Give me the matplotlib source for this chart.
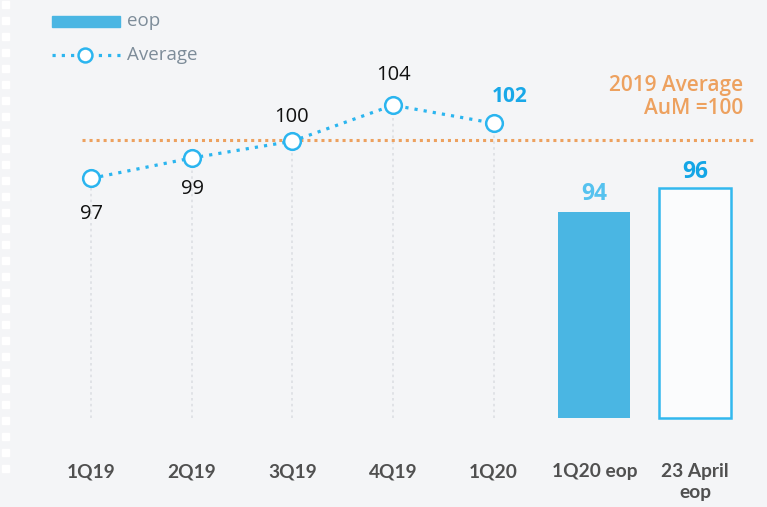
import matplotlib
matplotlib.use("Agg")
import matplotlib.pyplot as plt
from matplotlib.lines import Line2D
from matplotlib.patches import Rectangle

# ---- data ----
categories = ["1Q19", "2Q19", "3Q19", "4Q19", "1Q20", "1Q20 eop", "23 April\neop"]
avg_values = [96.8, 98.5, 99.9, 102.9, 101.4]          # plotted positions
avg_labels = ["97", "99", "100", "104", "102"]
eop_values = [94, 96]
eop_labels = ["94", "96"]
reference_value = 100
reference_label = "2019 Average\nAuM =100"

BG = "#f4f5f7"
BLUE_BAR = "#4ab6e3"
BLUE_LINE = "#2bb5ef"
ORANGE = "#eda15f"
GREY_TXT = "#555555"

W, H = 767, 507
fig = plt.figure(figsize=(W / 100, H / 100), dpi=100, facecolor=BG)
ax = fig.add_axes([0, 0, 1, 1])
ax.set_facecolor(BG)

# pixel -> data mapping
px_per_x = 100.67
x0_px = 91
px_per_y = 12.0
ref_y_px, ref_val = 188, 96
ax.set_xlim(-x0_px / px_per_x, (W - x0_px) / px_per_x)
ax.set_ylim(ref_val - (H - ref_y_px) / px_per_y, ref_val + ref_y_px / px_per_y)
for s in ax.spines.values():
    s.set_visible(False)
ax.set_xticks([]); ax.set_yticks([])

def py(p):  # pixel y -> data y
    return ref_val - (p - ref_y_px) / px_per_y

def px(p):
    return (p - x0_px) / px_per_x

base = py(418)
xs = list(range(len(categories)))
n_avg = len(avg_values)

# vertical dotted guides
for i in range(n_avg):
    ax.plot([xs[i], xs[i]], [base, avg_values[i]], color="#dcdfe3", lw=1.2,
            ls=(0, (1.5, 2)), zorder=1)

# reference line
ax.plot([px(82), px(754)], [reference_value, reference_value], color=ORANGE, lw=2.2,
        ls=(0, (1, 1.3)), zorder=2)

# average line
ax.plot(xs[:n_avg], avg_values, color=BLUE_LINE, lw=2.3, ls=(0, (1, 1.9)),
        marker="o", ms=12, mfc="white", mec=BLUE_LINE, mew=1.8, zorder=4)

# bars
bw = 72 / px_per_x
ax.bar(xs[n_avg], eop_values[0] - base, bottom=base, width=bw, color=BLUE_BAR,
       zorder=3)
ax.bar(xs[n_avg + 1], eop_values[1] - base, bottom=base, width=bw, color="#fbfcfd",
       edgecolor="#32b8ee", linewidth=1.8, zorder=3)

# labels of average points
lab_font = dict(family="Open Sans", fontsize=14.5, color="#111111")
label_pos = [(91, 214), (192, 189), (291, 117), (393, 75)]
for (lx, ly), t in zip(label_pos, avg_labels[:4]):
    ax.text(px(lx), py(ly), t, ha="center", va="center", **lab_font)
ax.text(px(510), py(96), avg_labels[4], ha="center", va="center",
        family="Open Sans", fontsize=15, fontweight="bold", color="#19a8e8")

# bar value labels
ax.text(xs[n_avg], py(194), eop_labels[0], ha="center", va="center",
        family="Open Sans", fontsize=16.5, fontweight="bold", color="#55c2ef")
ax.text(xs[n_avg + 1], py(172), eop_labels[1], ha="center", va="center",
        family="Open Sans", fontsize=16.5, fontweight="bold", color="#14a6e6")

# reference annotation
ax.text(px(743), py(97), reference_label, ha="right", va="center",
        family="Open Sans", fontsize=15, fontweight="semibold", color=ORANGE,
        linespacing=1.15)

# category labels
for i, c in enumerate(categories):
    ax.text(xs[i], py(463), c, ha="center", va="top", family="Lato",
            fontsize=13.8, fontweight="bold", color="#505050", linespacing=1.25)

# legend
fig.patches.append(Rectangle((52 / W, 1 - 27 / H), 68 / W, 11 / H,
                             transform=fig.transFigure, color=BLUE_BAR))
fig.text(127 / W, 1 - 21 / H, "eop", ha="left", va="center", family="Open Sans",
         fontsize=13.5, color="#7d8c99")
fig.lines.append(Line2D([52 / W, 120 / W], [1 - 55 / H, 1 - 55 / H],
                        transform=fig.transFigure, color=BLUE_LINE, lw=2.3,
                        ls=(0, (1, 1.9))))
fig.lines.append(Line2D([85 / W], [1 - 55 / H], transform=fig.transFigure,
                        marker="o", ms=10, mfc="white", mec=BLUE_LINE, mew=1.8,
                        ls="none"))
fig.text(127 / W, 1 - 55 / H, "Average", ha="left", va="center", family="Open Sans",
         fontsize=13.5, color="#7d8c99")

# left dotted border
for k in range(30):
    yy = 1 + 16 * k
    if yy > 465:
        break
    fig.patches.append(Rectangle((2 / W, 1 - (yy + 7) / H), 7 / W, 7 / H,
                                 transform=fig.transFigure, color="white"))

fig.savefig("out.png", dpi=100, facecolor=BG)
